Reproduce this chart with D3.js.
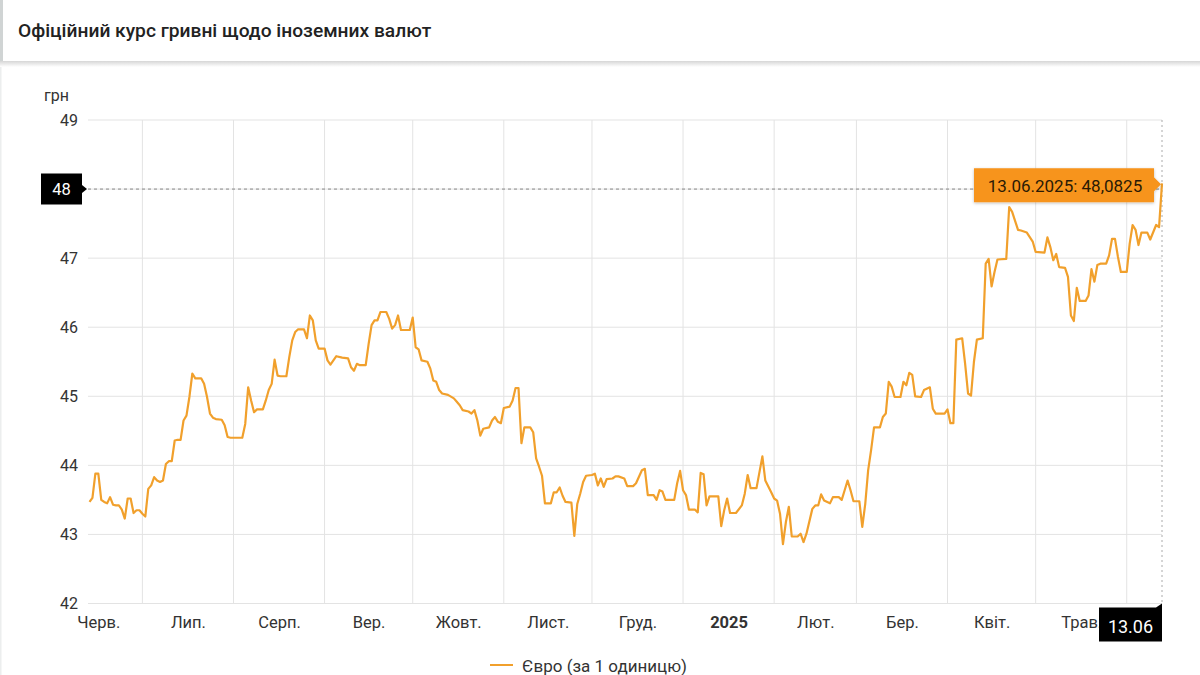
<!DOCTYPE html>
<html><head><meta charset="utf-8">
<script src="https://cdn.jsdelivr.net/npm/d3@7"></script>
<style>
html,body{margin:0;padding:0;background:#fff;width:1200px;height:675px;overflow:hidden;font-family:Roboto,"Noto Sans",sans-serif;}
</style></head>
<body>
<svg id="chart" width="1200" height="675"></svg>
<script>
// ---- data ----
const title = "Офіційний курс гривні щодо іноземних валют";
const unitLabel = "грн";
const seriesName = "Євро (за 1 одиницю)";
const startDate = "2024-06-13";
const endDate = "2025-06-13";
const monthLabels = ["Черв.", "Лип.", "Серп.", "Вер.", "Жовт.", "Лист.", "Груд.", "2025", "Лют.", "Бер.", "Квіт.", "Трав."];
const yTicks = [42, 43, 44, 45, 46, 47, 48, 49];
const highlightY = 48;
const tooltipText = "13.06.2025: 48,0825";
const xMarkerLabel = "13.06";
// day offsets from startDate and EUR rate (UAH)
const dayOffsets = [0,1,2,3,4,5,6,7,8,9,10,11,12,13,14,15,16,17,18,19,20,21,22,23,24,25,26,27,28,29,30,31,32,33,34,35,36,38,39,40,41,42,43,45,46,47,48,52,53,54,55,56,57,59,60,61,62,63,64,65,67,68,69,70,71,73,74,75,76,77,78,80,81,82,83,84,86,88,89,90,91,92,94,95,96,97,98,99,101,102,103,104,105,106,109,110,111,112,113,115,116,117,118,119,120,122,124,125,126,127,129,130,131,132,133,134,136,137,138,139,140,141,143,144,145,146,147,148,150,151,152,153,154,155,157,158,159,160,161,162,164,165,166,167,168,169,171,172,173,174,175,176,178,179,180,182,183,185,186,188,189,190,192,193,194,195,196,199,200,201,202,203,204,206,207,208,209,210,211,214,215,216,217,218,220,222,223,224,225,227,229,230,232,233,234,235,236,237,238,239,241,242,243,244,246,247,248,249,250,252,253,255,256,257,258,259,260,262,263,264,265,266,267,269,270,271,272,273,274,276,277,278,279,280,281,283,284,286,287,288,291,292,293,294,295,297,298,299,300,301,302,304,305,306,307,308,309,312,313,314,316,317,319,321,322,325,326,327,328,329,330,332,333,334,335,336,337,339,340,341,342,343,344,346,347,348,349,350,351,353,354,355,356,357,358,360,361,363,364,365];
const eurRates = [43.47,43.53,43.88,43.88,43.50,43.47,43.45,43.54,43.43,43.42,43.42,43.36,43.23,43.52,43.52,43.31,43.35,43.35,43.30,43.26,43.66,43.71,43.83,43.78,43.76,43.78,44.02,44.06,44.06,44.36,44.37,44.37,44.65,44.72,44.99,45.33,45.26,45.26,45.18,44.99,44.75,44.69,44.67,44.66,44.58,44.41,44.40,44.40,44.60,45.13,44.94,44.77,44.81,44.81,44.94,45.09,45.18,45.53,45.30,45.29,45.29,45.57,45.81,45.93,45.97,45.97,45.84,46.17,46.10,45.81,45.69,45.69,45.52,45.46,45.52,45.58,45.56,45.55,45.42,45.37,45.47,45.45,45.45,45.76,46.03,46.10,46.10,46.22,46.22,46.12,45.98,46.03,46.17,45.96,45.96,46.14,45.71,45.68,45.52,45.50,45.40,45.23,45.21,45.09,45.04,45.02,44.97,44.92,44.87,44.80,44.78,44.75,44.80,44.65,44.43,44.53,44.55,44.65,44.70,44.63,44.61,44.83,44.85,44.94,45.12,45.12,44.32,44.55,44.55,44.48,44.10,43.98,43.85,43.45,43.45,43.61,43.61,43.68,43.56,43.47,43.46,42.98,43.44,43.59,43.76,43.85,43.86,43.88,43.71,43.81,43.69,43.80,43.81,43.84,43.84,43.81,43.70,43.70,43.74,43.93,43.95,43.57,43.57,43.50,43.64,43.62,43.50,43.50,43.74,43.92,43.64,43.57,43.36,43.36,43.32,43.89,43.87,43.42,43.55,43.55,43.12,43.35,43.52,43.31,43.31,43.42,43.59,43.86,43.67,43.67,44.13,43.78,43.61,43.52,43.49,43.30,42.86,43.18,43.40,42.97,42.97,43.01,42.89,43.01,43.37,43.42,43.42,43.58,43.49,43.45,43.54,43.54,43.50,43.64,43.78,43.64,43.48,43.48,43.11,43.44,43.93,44.22,44.55,44.55,44.70,44.75,45.21,45.14,44.99,44.99,45.21,45.16,45.34,45.31,45.00,44.99,45.09,45.13,44.82,44.75,44.75,44.81,44.61,44.61,45.82,45.84,45.47,45.04,45.01,45.50,45.82,45.84,46.92,46.99,46.59,46.80,46.98,46.99,47.74,47.67,47.41,47.40,47.37,47.24,47.09,47.08,47.30,47.16,46.97,47.06,46.87,46.86,46.73,46.17,46.09,46.57,46.38,46.38,46.46,46.84,46.66,46.90,46.92,46.92,47.04,47.28,47.28,47.02,46.80,46.80,47.21,47.48,47.41,47.19,47.37,47.37,47.27,47.48,47.45,48.0825];

// ---- rendering ----
const svg = d3.select("#chart");
const W = 1200, H = 675;
const plotL = 88, plotR = 1162, plotT = 120, plotB = 603.5;
const lineColor = "#f1a02c";
const gridColor = "#e3e3e3";
const textColor = "#333";

const parse = d3.timeParse("%Y-%m-%d");
const t0 = parse(startDate), t1 = parse(endDate);
const n = Math.min(dayOffsets.length, eurRates.length);
const data = dayOffsets.slice(0, n).map((d, i) => ({date: d3.timeDay.offset(t0, d), value: eurRates[i]}));

const x = d3.scaleTime().domain([t0, t1]).range([plotL + 1.5, plotR]);
const y = d3.scaleLinear().domain([42, 49]).range([plotB, plotT]);

// header
const defs = svg.append("defs");
const sh = defs.append("linearGradient").attr("id","hdrShadow").attr("x1",0).attr("x2",0).attr("y1",0).attr("y2",1);
sh.append("stop").attr("offset","0%").attr("stop-color","#d6d6d6");
sh.append("stop").attr("offset","100%").attr("stop-color","#ffffff");
svg.append("rect").attr("x",0).attr("y",0).attr("width",W).attr("height",61).attr("fill","#fff");
svg.append("rect").attr("x",0).attr("y",61).attr("width",W).attr("height",6).attr("fill","url(#hdrShadow)");
svg.append("rect").attr("x",0).attr("y",0).attr("width",3).attr("height",61).attr("fill","#d0d4d4");
svg.append("rect").attr("x",0).attr("y",67).attr("width",1.5).attr("height",H-67).attr("fill","#eceeee");
svg.append("text").attr("x",18).attr("y",36.5).attr("font-size",19.2).attr("font-weight",500)
  .attr("fill","#222").text(title);

// unit label
svg.append("text").attr("x",44).attr("y",101).attr("font-size",16).attr("fill",textColor).text(unitLabel);

// horizontal grid
svg.append("g").selectAll("line").data(yTicks).join("line")
  .attr("x1", plotL).attr("x2", plotR).attr("y1", d => y(d)).attr("y2", d => y(d))
  .attr("stroke", gridColor).attr("stroke-width", 1);

// vertical grid at month starts
const monthStarts = d3.timeMonth.range(d3.timeMonth.ceil(t0), t1);
svg.append("g").selectAll("line").data(monthStarts).join("line")
  .attr("x1", d => x(d)).attr("x2", d => x(d)).attr("y1", plotT).attr("y2", plotB)
  .attr("stroke", gridColor).attr("stroke-width", 1);

// y axis (the highlighted value is shown in the crosshair box instead)
const yAxis = d3.axisLeft(y).tickValues(yTicks.filter(v => v !== highlightY)).tickSize(0).tickPadding(0).tickFormat(d3.format("d"));
const gy = svg.append("g").attr("transform", `translate(${plotL - 10},0)`).call(yAxis);
gy.select(".domain").remove();
gy.selectAll("text").attr("font-size", 16).attr("fill", textColor).attr("font-family","Roboto, sans-serif");

// x axis labels at mid-month
const monthCenters = d3.timeMonth.range(d3.timeMonth.floor(t0), d3.timeMonth.floor(t1)).map(m => {
  const nx = d3.timeMonth.offset(m, 1);
  return new Date((m.getTime() + nx.getTime()) / 2);
});
const xAxis = d3.axisBottom(x).tickValues(monthCenters).tickSize(0).tickPadding(0)
  .tickFormat((d, i) => monthLabels[i]);
const gx = svg.append("g").attr("transform", `translate(0,${plotB + 13})`).call(xAxis);
gx.select(".domain").remove();
gx.selectAll("text").attr("font-size", 16.5).attr("fill", textColor).attr("font-family","Roboto, sans-serif")
  .attr("font-weight", (d, i) => monthLabels[i] === "2025" ? 700 : 400);

// crosshair lines
const last = data[data.length - 1];
svg.append("line").attr("x1", plotL).attr("x2", plotR).attr("y1", y(highlightY)).attr("y2", y(highlightY))
  .attr("stroke", "#888").attr("stroke-width", 1).attr("stroke-dasharray", "3,3");
svg.append("line").attr("x1", x(last.date)).attr("x2", x(last.date)).attr("y1", plotT).attr("y2", plotB)
  .attr("stroke", "#aaa").attr("stroke-width", 1).attr("stroke-dasharray", "2,3");

// series line
const line = d3.line().x(d => x(d.date)).y(d => y(d.value)).curve(d3.curveLinear);
svg.append("path").datum(data).attr("d", line).attr("fill", "none")
  .attr("stroke", lineColor).attr("stroke-width", 2.2).attr("stroke-linejoin","round");

// y crosshair label box
const yb = y(highlightY);
svg.append("path").attr("d", `M41,${yb-15.5}H82V${yb-4}L87,${yb}L82,${yb+4}V${yb+15.5}H41Z`).attr("fill", "#000");
svg.append("text").attr("x", 61.5).attr("y", yb + 6).attr("text-anchor","middle").attr("font-size",16.5)
  .attr("fill","#fff").text(highlightY);

// x crosshair label box
const xb = x(last.date);
svg.append("path").attr("d", `M${xb-63},${plotB+4}H${xb-6}L${xb},${plotB}V${plotB+38}H${xb-63}Z`).attr("fill","#000");
svg.append("text").attr("x", xb - 31.5).attr("y", plotB + 29).attr("text-anchor","middle").attr("font-size",18)
  .attr("fill","#fff").text(xMarkerLabel);

// tooltip
const tx = xb, ty = y(last.value);
const tf = defs.append("filter").attr("id","tipShadow").attr("x","-10%").attr("y","-30%").attr("width","120%").attr("height","160%");
tf.append("feDropShadow").attr("dx",0).attr("dy",1).attr("stdDeviation",1.5).attr("flood-color","#000").attr("flood-opacity",0.25);
svg.append("path")
  .attr("d", `M${tx-188},${ty-15}H${tx-8}V${ty-6}L${tx-1},${ty+1}L${tx-8},${ty+8}V${ty+19}H${tx-188}Z`)
  .attr("fill", "#f7941d").attr("filter","url(#tipShadow)");
svg.append("text").attr("x", tx - 97).attr("y", ty + 8.5).attr("text-anchor","middle").attr("font-size",17)
  .attr("fill","#2a1a05").text(tooltipText);

// legend
svg.append("line").attr("x1",490).attr("x2",513).attr("y1",665).attr("y2",665).attr("stroke",lineColor).attr("stroke-width",2);
svg.append("text").attr("x",522).attr("y",672).attr("font-size",17).attr("fill",textColor).text(seriesName);
</script>
</body></html>
